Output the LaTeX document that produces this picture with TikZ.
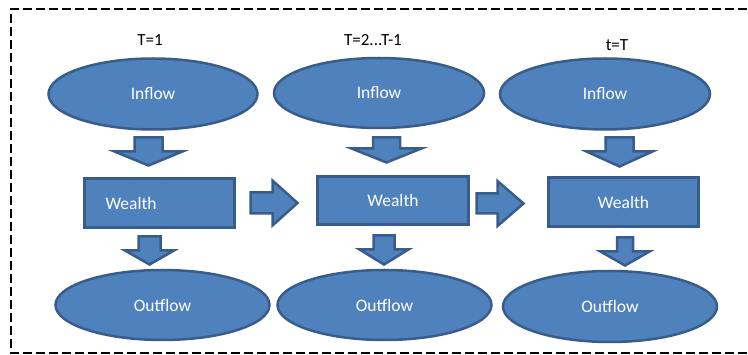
\documentclass[tikz,border=0pt]{standalone}
\usepackage{fontspec}
\setmainfont{Carlito}
\usetikzlibrary{
    shapes.geometric,
    calc
}
\definecolor{flowfill}{HTML}{4F81BD}
\definecolor{flowline}{HTML}{385D8A}
\tikzset {
    flow/.style = {draw = flowline, fill = flowfill, line width = 2.5pt},
    flowtext/.style = {text = white, font = \fontsize{17.5}{20}\selectfont},
    pool/.style = {flow, flowtext, ellipse, inner sep = 0pt},
    stock/.style = {flow, flowtext, rectangle, inner sep = 0pt},
    period/.style = {font = \fontsize{17}{20}\selectfont, inner sep = 0pt},
    frame/.style = {line width = 1.5pt, dash pattern = on 9pt off 4pt},
    %
    pics/down arrow/.style args = {#1/#2/#3/#4}{
        code = {
            \draw [flow, line join = miter]
                (-#1/2, 0) -- (#1/2, 0) -- (#1/2, -#3+#4) -- (#2/2, -#3+#4)
                -- (0, -#3) -- (-#2/2, -#3+#4) -- (-#1/2, -#3+#4) -- cycle;
        }
    },
    pics/right arrow/.style args = {#1/#2/#3/#4}{
        code = {
            \draw [flow, line join = miter]
                (0, -#1/2) -- (#3-#4, -#1/2) -- (#3-#4, -#2/2)
                -- (#3, 0) -- (#3-#4, #2/2) -- (#3-#4, #1/2) -- (0, #1/2) -- cycle;
        }
    }
}
\begin{document}
\begin{tikzpicture}[x = 1pt, y = 1pt]
    \useasboundingbox (0, 0) rectangle (748, -355);
    \draw [frame] (760, -9) -- (11, -9) -- (11, -353) -- (760, -353);
    % periods
    \node (p1) [period] at (150, -40) {T=1};
    \node (p2) [period] at (373, -40) {T=2...T-1};
    \node (p3) [period] at (617, -45) {t=T};
    % inflows
    \node (in1) [pool, minimum width = 209, minimum height = 71] at (153, -94) {Inflow};
    \node (in2) [pool, minimum width = 210, minimum height = 70] at (379, -93) {Inflow};
    \node (in3) [pool, minimum width = 210, minimum height = 71] at (605, -94) {Inflow};
    % wealth
    \node (w1) [stock, minimum height = 49, text width = 108, inner xsep = 21, align = left]
        at (159.5, -203) {Wealth};
    \node (w2) [stock, minimum width = 151, minimum height = 48] at (393, -200.5) {Wealth};
    \node (w3) [stock, minimum width = 150, minimum height = 49] at (623.5, -202) {Wealth};
    % outflows
    \node (out1) [pool, minimum width = 214, minimum height = 70] at (162.5, -305) {Outflow};
    \node (out2) [pool, minimum width = 214, minimum height = 70] at (384.5, -305) {Outflow};
    \node (out3) [pool, minimum width = 214, minimum height = 71] at (610, -306.5) {Outflow};
    % block arrows
    \pic at (148.5, -137.5) {down arrow = 28/68/28/14};
    \pic at (386.5, -137.5) {down arrow = 27/70/25/14};
    \pic at (619.5, -137.5) {down arrow = 28/66/29/15};
    \pic at (149.5, -236.5) {down arrow = 22/49/28/14};
    \pic at (384, -235.5) {down arrow = 21/49/29/15};
    \pic at (625, -237.5) {down arrow = 16/49/28/14};
    \pic at (250.5, -203) {right arrow = 21/45/47/25};
    \pic at (476.5, -203.5) {right arrow = 20/45/47/26};
\end{tikzpicture}
\end{document}
